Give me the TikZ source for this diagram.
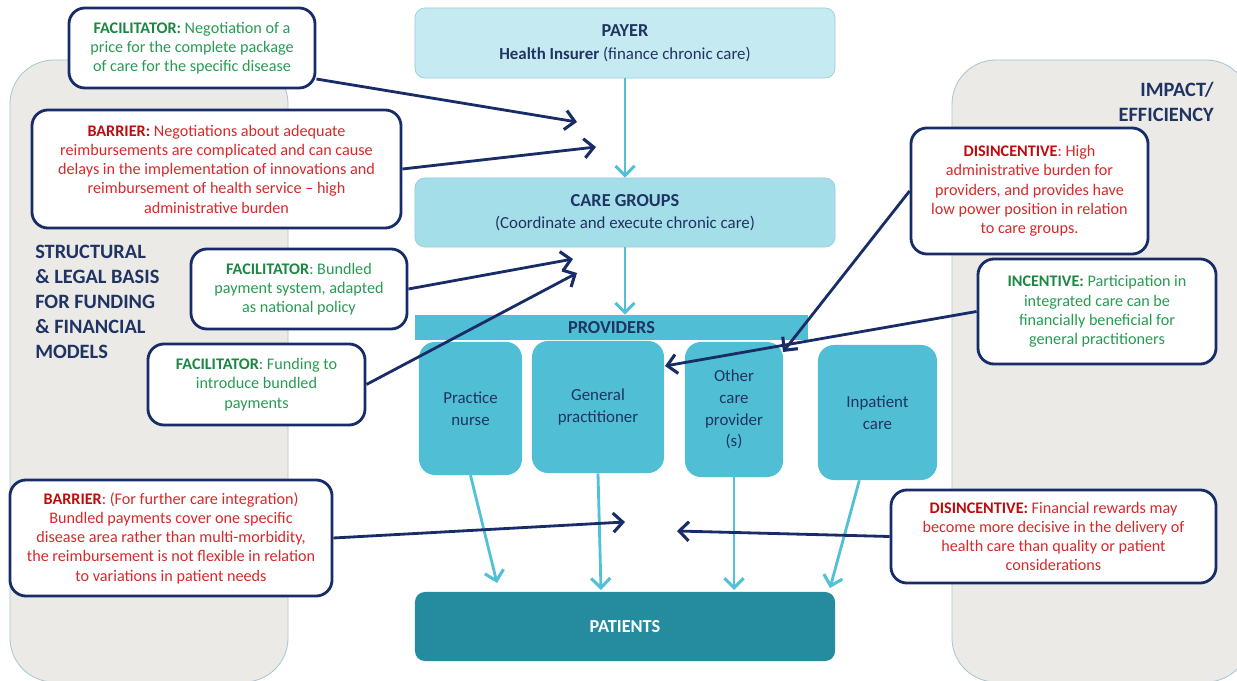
\documentclass[tikz,border=0pt]{standalone}
\usepackage{fontspec}
\setmainfont{Carlito}
\usetikzlibrary{arrows.meta}

\definecolor{navy}{RGB}{24,44,104}
\definecolor{darktext}{RGB}{31,52,98}
\definecolor{okgreen}{RGB}{40,155,82}
\definecolor{okgreenbold}{RGB}{27,135,66}
\definecolor{badred}{RGB}{214,42,42}
\definecolor{badredbold}{RGB}{190,12,12}
\definecolor{flowblue}{RGB}{82,192,214}
\definecolor{payerfill}{RGB}{198,234,241}
\definecolor{carefill}{RGB}{164,222,233}
\definecolor{hubline}{RGB}{150,205,220}
\definecolor{provfill}{RGB}{80,191,213}
\definecolor{patfill}{RGB}{37,140,159}
\definecolor{panelfill}{RGB}{235,234,231}
\definecolor{panelline}{RGB}{169,198,206}
\pgfdeclareradialshading{innerglow}{\pgfpoint{0bp}{0bp}}{color(0bp)=(white); color(40bp)=(white); color(50bp)=(black!30); color(100bp)=(black!30)}

\begin{document}
\begin{tikzpicture}[x=0.025cm, y=-0.025cm,
panel/.style={draw=panelline, fill=panelfill, line width=0.6pt, rounded corners=1.1cm},
hub/.style={rectangle, draw=hubline, line width=0.5pt, rounded corners=2.5mm, text=darktext, align=center, minimum width=10.5cm, font=\fontsize{12}{16}\selectfont},
provider/.style={rectangle, fill=provfill, rounded corners=4mm, text=darktext, align=center, font=\fontsize{12}{15.5}\selectfont},
factor/.style={rectangle, draw=navy, line width=2pt, rounded corners=4mm, shading=innerglow, align=center, inner sep=2pt, font=\fontsize{11.5}{13.7}\selectfont},
heading/.style={text=darktext, inner sep=0pt, font=\bfseries\fontsize{14.5}{17.8}\selectfont},
link/.style={navy, line width=2pt, -{Straight Barb[length=2.4mm, width=4.8mm, line width=2.2pt]}},
flow/.style={flowblue, line width=2pt, -{Straight Barb[length=2.4mm, width=4.8mm, line width=2.2pt]}},
]
\useasboundingbox (0,0) rectangle (1237,681);

% side panels
\draw[panel] (10,60) rectangle (288,682);
\draw[panel] (952,60) rectangle (1250,682);
\node[heading, anchor=north west, align=left] (basis) at (35,245)
	{STRUCTURAL\\ \& LEGAL BASIS\\ FOR FUNDING\\ \& FINANCIAL\\ MODELS};
\node[heading, anchor=north east, align=right] (impact) at (1214,82)
	{IMPACT/\\ EFFICIENCY};

% main chain
\node[hub, fill=payerfill, minimum height=1.75cm] (payer) at (625,43)
	{{\fontsize{13}{16}\selectfont\textbf{PAYER}}\\ \textbf{Health Insurer} (finance chronic care)};
\node[hub, fill=carefill, minimum height=1.725cm] (care) at (625,212.5)
	{{\fontsize{13}{16}\selectfont\textbf{CARE GROUPS}}\\ (Coordinate and execute chronic care)};
\node[rectangle, fill=provfill, minimum width=9.825cm, minimum height=0.625cm, inner sep=0pt, text=darktext, font=\bfseries\fontsize{13}{16}\selectfont] (prov) at (611.5,327.5) {PROVIDERS};

\node[provider, minimum width=2.575cm, minimum height=3.325cm] (nurse) at (470.5,408.5) {Practice\\ nurse};
\node[provider, minimum width=3.3cm, minimum height=3.3cm] (gp) at (598,407) {General\\ practitioner};
\node[provider, minimum width=2.45cm, minimum height=3.375cm] (other) at (734,409.5) {Other\\ care\\ provider\\ (s)};
\node[provider, minimum width=2.975cm, minimum height=3.375cm] (inpat) at (877.5,412.5) {Inpatient\\ care};

\node[rectangle, fill=patfill, rounded corners=2.5mm, minimum width=10.5cm, minimum height=1.725cm, text=white, font=\bfseries\fontsize{13}{16}\selectfont] (pat) at (625,626.5) {PATIENTS};

\draw[flow] (payer.south) -- (care.north);
\draw[flow] (care.south) -- (care.south |- prov.north);

\coordinate (pn) at (497,583);
\coordinate (pg) at (601,590);
\coordinate (po) at (734,590);
\coordinate (pi) at (830,588);
\draw[flow] (nurse.south) -- (pn);
\draw[flow] (gp.south) -- (pg);
\draw[flow] (other.south) -- (po);
\draw[flow] (inpat.-105) -- (pi);

% facilitators, barriers and incentives
\node[factor, text=okgreen, minimum width=6.15cm, minimum height=2cm] (fac1) at (192,48)
	{\textbf{\color{okgreenbold}FACILITATOR:} Negotiation of a\\ price for the complete package\\ of care for the specific disease};
\node[factor, text=badred, minimum width=9.225cm, minimum height=2.95cm] (bar1) at (216.5,169)
	{\textbf{\color{badredbold}BARRIER:} Negotiations about adequate\\ reimbursements are complicated and can cause\\ delays in the implementation of innovations and\\ reimbursement of health service -- high\\ administrative burden};
\node[factor, text=okgreen, minimum width=5.4cm, minimum height=2cm] (fac2) at (299,289)
	{\textbf{\color{okgreenbold}FACILITATOR}: Bundled\\ payment system, adapted\\ as national policy};
\node[factor, text=okgreen, minimum width=5.425cm, minimum height=2.025cm] (fac3) at (256.5,384.5)
	{\textbf{\color{okgreenbold}FACILITATOR}: Funding to\\ introduce bundled\\ payments};
\node[factor, text=badred, minimum width=5.925cm, minimum height=3.15cm] (dis1) at (1029.5,191)
	{\textbf{\color{badredbold}DISINCENTIVE}: High\\ administrative burden for\\ providers, and provides have\\ low power position in relation\\ to care groups.};
\node[factor, text=okgreen, minimum width=5.95cm, minimum height=2.625cm] (inc1) at (1097,311.5)
	{\textbf{\color{okgreenbold}INCENTIVE:} Participation in\\ integrated care can be\\ financially beneficial for\\ general practitioners};
\node[factor, text=badred, minimum width=8.05cm, minimum height=2.9cm] (bar2) at (171,538)
	{\textbf{\color{badredbold}BARRIER}: (For further care integration)\\ Bundled payments cover one specific\\ disease area rather than multi-morbidity,\\ the reimbursement is not flexible in relation\\ to variations in patient needs};
\node[factor, text=badred, minimum width=8.125cm, minimum height=2.325cm] (dis2) at (1053.5,536.5)
	{\textbf{\color{badredbold}DISINCENTIVE:} Financial rewards may\\ become more decisive in the delivery of\\ health care than quality or patient\\ considerations};

\coordinate (tf1) at (577,122);
\coordinate (tb1) at (596,147);
\coordinate (tf2) at (573,259);
\coordinate (tf3) at (577,273);
\coordinate (td1) at (783,352);
\coordinate (ti1) at (665,366);
\coordinate (tb2) at (625,522);
\coordinate (td2) at (677,531);
\draw[link] (fac1.-14) -- (tf1);
\draw[link] (bar1.east) -- (tb1);
\draw[link] (fac2.east) -- (tf2);
\draw[link] (fac3.east) -- (tf3);
\draw[link] (dis1.west) -- (td1);
\draw[link] (inc1.west) -- (ti1);
\draw[link] (bar2.east) -- (tb2);
\draw[link] (dis2.west) -- (td2);
\end{tikzpicture}
\end{document}
